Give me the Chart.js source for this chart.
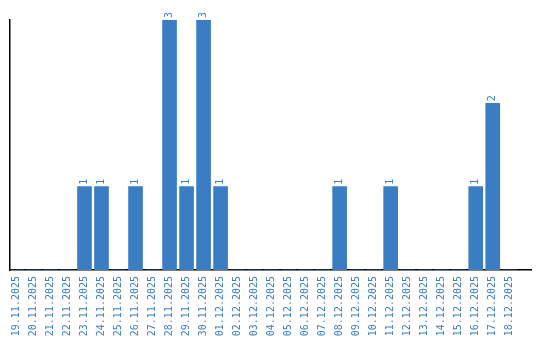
<!DOCTYPE html>
<html><head><meta charset="utf-8">
<script src="https://cdn.jsdelivr.net/npm/chart.js@4.4.0/dist/chart.umd.min.js"></script>
<style>html,body{margin:0;padding:0;background:#fff}#wrap{width:540px;height:340px}</style>
</head><body><div id="wrap"><canvas id="c" width="540" height="340"></canvas></div>
<script>
const categories = ["19.11.2025","20.11.2025","21.11.2025","22.11.2025","23.11.2025","24.11.2025","25.11.2025","26.11.2025","27.11.2025","28.11.2025","29.11.2025","30.11.2025","01.12.2025","02.12.2025","03.12.2025","04.12.2025","05.12.2025","06.12.2025","07.12.2025","08.12.2025","09.12.2025","10.12.2025","11.12.2025","12.12.2025","13.12.2025","14.12.2025","15.12.2025","16.12.2025","17.12.2025","18.12.2025"];
const counts = [0,0,0,0,1,1,0,1,0,3,1,3,1,0,0,0,0,0,0,1,0,0,1,0,0,0,0,1,2,0];
const barColor = "#3b7dc3";
const textColor = "#3b7dc3";
const fontFamily = "'DejaVu Sans Mono', monospace";

const points = counts.map((v, i) => ({ x: i, y: v }));

const valueLabels = {
  id: 'valueLabels',
  afterDatasetsDraw(chart) {
    const ctx = chart.ctx;
    const meta = chart.getDatasetMeta(0);
    ctx.save();
    ctx.fillStyle = textColor;
    ctx.font = "10px " + fontFamily;
    meta.data.forEach((bar, i) => {
      const v = counts[i];
      if (!v) return;
      ctx.save();
      ctx.translate(bar.x, bar.y - 2);
      ctx.rotate(-Math.PI / 2);
      ctx.textAlign = 'left';
      ctx.textBaseline = 'middle';
      ctx.fillText(String(v), 0, 0);
      ctx.restore();
    });
    ctx.restore();
  }
};

new Chart(document.getElementById('c'), {
  type: 'bar',
  data: { datasets: [{ data: points, backgroundColor: barColor, borderWidth: 0, barThickness: 14 }] },
  options: {
    responsive: false,
    animation: false,
    layout: { padding: { top: 20, left: 10, right: 9, bottom: 0 } },
    plugins: { legend: { display: false }, tooltip: { enabled: false } },
    scales: {
      x: {
        type: 'linear',
        offset: false,
        min: -0.38, max: 30.25,
        afterBuildTicks: (axis) => { axis.ticks = categories.map((_, i) => ({ value: i })); },
        afterFit: (axis) => { axis.paddingLeft = 0; axis.paddingRight = 0; axis.height = 70; },
        grid: { display: false, drawTicks: false, offset: false },
        border: { display: true, color: '#000', width: 1.5 },
        ticks: { color: textColor, font: { family: fontFamily, size: 10 }, minRotation: 90, maxRotation: 90, autoSkip: false, padding: 6,
          callback: (v) => categories[v] }
      },
      y: {
        min: 0, max: 3,
        afterFit: (axis) => { axis.width = 0; },
        grid: { display: false, drawTicks: false },
        border: { display: true, color: '#000', width: 1.5 },
        ticks: { display: false }
      }
    }
  },
  plugins: [valueLabels]
});
</script></body></html>
